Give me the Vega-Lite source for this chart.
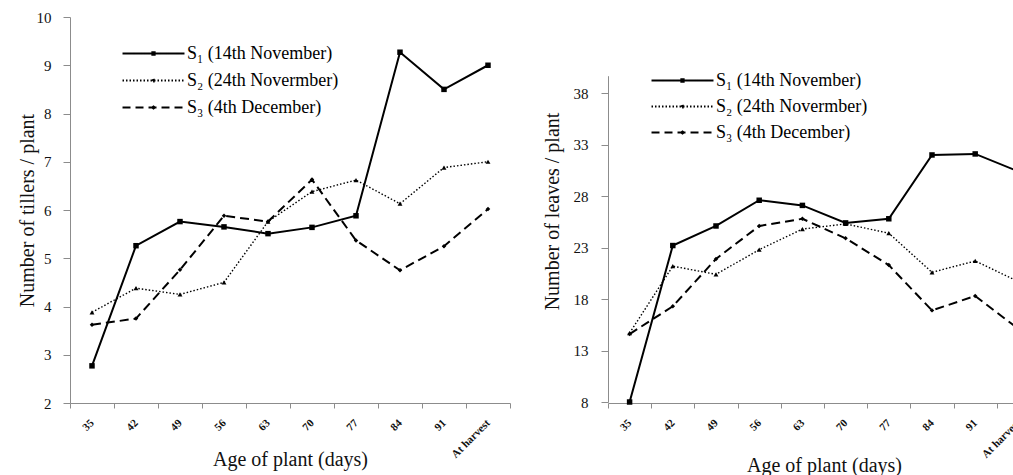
{
  "$schema": "https://vega.github.io/schema/vega-lite/v6.json",
  "background": "white",
  "padding": {"left": 17, "top": 10, "right": 0, "bottom": 0},
  "spacing": 31,
  "resolve": {"scale": {"shape": "independent", "strokeDash": "independent"}, "legend": {"shape": "independent", "strokeDash": "independent"}},
  "config": {
    "view": {"stroke": null},
    "axis": {
      "domainColor": "#8c8c8c",
      "tickColor": "#8c8c8c",
      "labelColor": "#111111",
      "titleColor": "#111111",
      "labelFont": "Liberation Serif",
      "titleFont": "Liberation Serif",
      "labelFontSize": 15,
      "titleFontSize": 20,
      "titleFontWeight": "normal",
      "grid": false
    }
  },
  "datasets": {
    "tillers": [
      {"age": "35", "series": "S₁ (14th November)", "value": 2.77},
      {"age": "42", "series": "S₁ (14th November)", "value": 5.26},
      {"age": "49", "series": "S₁ (14th November)", "value": 5.76},
      {"age": "56", "series": "S₁ (14th November)", "value": 5.65},
      {"age": "63", "series": "S₁ (14th November)", "value": 5.51},
      {"age": "70", "series": "S₁ (14th November)", "value": 5.64},
      {"age": "77", "series": "S₁ (14th November)", "value": 5.88},
      {"age": "84", "series": "S₁ (14th November)", "value": 9.27},
      {"age": "91", "series": "S₁ (14th November)", "value": 8.5},
      {"age": "At harvest", "series": "S₁ (14th November)", "value": 9.0},
      {"age": "35", "series": "S₂ (24th Novermber)", "value": 3.88},
      {"age": "42", "series": "S₂ (24th Novermber)", "value": 4.38},
      {"age": "49", "series": "S₂ (24th Novermber)", "value": 4.25},
      {"age": "56", "series": "S₂ (24th Novermber)", "value": 4.5},
      {"age": "63", "series": "S₂ (24th Novermber)", "value": 5.76},
      {"age": "70", "series": "S₂ (24th Novermber)", "value": 6.38},
      {"age": "77", "series": "S₂ (24th Novermber)", "value": 6.62},
      {"age": "84", "series": "S₂ (24th Novermber)", "value": 6.13},
      {"age": "91", "series": "S₂ (24th Novermber)", "value": 6.88},
      {"age": "At harvest", "series": "S₂ (24th Novermber)", "value": 7.0},
      {"age": "35", "series": "S₃ (4th December)", "value": 3.62},
      {"age": "42", "series": "S₃ (4th December)", "value": 3.75},
      {"age": "49", "series": "S₃ (4th December)", "value": 4.76},
      {"age": "56", "series": "S₃ (4th December)", "value": 5.88},
      {"age": "63", "series": "S₃ (4th December)", "value": 5.76},
      {"age": "70", "series": "S₃ (4th December)", "value": 6.63},
      {"age": "77", "series": "S₃ (4th December)", "value": 5.37},
      {"age": "84", "series": "S₃ (4th December)", "value": 4.75},
      {"age": "91", "series": "S₃ (4th December)", "value": 5.25},
      {"age": "At harvest", "series": "S₃ (4th December)", "value": 6.02}
    ],
    "leaves": [
      {"age": "35", "series": "S₁ (14th November)", "value": 8.0},
      {"age": "42", "series": "S₁ (14th November)", "value": 23.2},
      {"age": "49", "series": "S₁ (14th November)", "value": 25.1},
      {"age": "56", "series": "S₁ (14th November)", "value": 27.6},
      {"age": "63", "series": "S₁ (14th November)", "value": 27.1},
      {"age": "70", "series": "S₁ (14th November)", "value": 25.4},
      {"age": "77", "series": "S₁ (14th November)", "value": 25.8},
      {"age": "84", "series": "S₁ (14th November)", "value": 32.0},
      {"age": "91", "series": "S₁ (14th November)", "value": 32.1},
      {"age": "At harvest", "series": "S₁ (14th November)", "value": 30.4},
      {"age": "35", "series": "S₂ (24th Novermber)", "value": 14.7},
      {"age": "42", "series": "S₂ (24th Novermber)", "value": 21.2},
      {"age": "49", "series": "S₂ (24th Novermber)", "value": 20.4},
      {"age": "56", "series": "S₂ (24th Novermber)", "value": 22.8},
      {"age": "63", "series": "S₂ (24th Novermber)", "value": 24.8},
      {"age": "70", "series": "S₂ (24th Novermber)", "value": 25.3},
      {"age": "77", "series": "S₂ (24th Novermber)", "value": 24.4},
      {"age": "84", "series": "S₂ (24th Novermber)", "value": 20.6},
      {"age": "91", "series": "S₂ (24th Novermber)", "value": 21.7},
      {"age": "At harvest", "series": "S₂ (24th Novermber)", "value": 19.7},
      {"age": "35", "series": "S₃ (4th December)", "value": 14.6},
      {"age": "42", "series": "S₃ (4th December)", "value": 17.3},
      {"age": "49", "series": "S₃ (4th December)", "value": 21.9},
      {"age": "56", "series": "S₃ (4th December)", "value": 25.1},
      {"age": "63", "series": "S₃ (4th December)", "value": 25.8},
      {"age": "70", "series": "S₃ (4th December)", "value": 23.9},
      {"age": "77", "series": "S₃ (4th December)", "value": 21.3},
      {"age": "84", "series": "S₃ (4th December)", "value": 16.9},
      {"age": "91", "series": "S₃ (4th December)", "value": 18.3},
      {"age": "At harvest", "series": "S₃ (4th December)", "value": 15.1}
    ]
  },
  "hconcat": [
    {
      "width": 440,
      "height": 386,
      "data": {"name": "tillers"},
      "encoding": {
        "x": {
          "field": "age", "type": "ordinal",
          "sort": ["35", "42", "49", "56", "63", "70", "77", "84", "91", "At harvest"],
          "scale": {"type": "band", "paddingInner": 0, "paddingOuter": 0},
          "axis": {
            "title": "Age of plant (days)", "tickBand": "extent", "tickSize": 5,
            "labelAngle": -45, "labelAlign": "right", "labelBaseline": "middle", "labelPadding": 13,
            "labelFontWeight": "bold", "labelFontSize": 11,
            "titleX": 220, "titleY": 62, "titleBaseline": "alphabetic", "titleAlign": "center"
          }
        },
        "y": {
          "field": "value", "type": "quantitative",
          "scale": {"domain": [2, 10], "nice": false, "zero": false},
          "axis": {
            "title": "Number of tillers / plant", "values": [2, 3, 4, 5, 6, 7, 8, 9, 10],
            "tickSize": 7, "labelPadding": 12,
            "titleX": -37, "titleY": 193, "titleBaseline": "alphabetic", "titleAlign": "center", "titleAngle": -90
          }
        }
      },
      "layer": [
        {"transform": [{"filter": {"field": "series", "equal": "S₁ (14th November)"}}], "mark": {"type": "line", "color": "black", "strokeWidth": 2}, "encoding": {}},
        {"transform": [{"filter": {"field": "series", "equal": "S₂ (24th Novermber)"}}], "mark": {"type": "line", "color": "black", "strokeWidth": 1.4, "strokeDash": [1.5, 2]}, "encoding": {}},
        {"transform": [{"filter": {"field": "series", "equal": "S₃ (4th December)"}}], "mark": {"type": "line", "color": "black", "strokeWidth": 2, "strokeDash": [9, 5]}, "encoding": {}},
        {"transform": [{"filter": {"field": "series", "equal": "S₁ (14th November)"}}], "mark": {"type": "point", "shape": "square", "filled": true, "color": "black", "opacity": 1, "size": 30}, "encoding": {}},
        {"transform": [{"filter": {"field": "series", "equal": "S₂ (24th Novermber)"}}], "mark": {"type": "point", "shape": "triangle-up", "filled": true, "color": "black", "opacity": 1, "size": 24}, "encoding": {}},
        {"transform": [{"filter": {"field": "series", "equal": "S₃ (4th December)"}}], "mark": {"type": "point", "shape": "diamond", "filled": true, "color": "black", "opacity": 1, "size": 20}, "encoding": {}},
        {
          "mark": {"type": "point", "filled": false, "color": "black", "strokeWidth": 1.8, "opacity": 0},
          "encoding": {
            "shape": {
              "field": "series", "type": "nominal",
              "scale": {"domain": ["S₁ (14th November)", "S₂ (24th Novermber)", "S₃ (4th December)"],
                        "range": ["M-3,0H3M-0.12,-0.12H0.12V0.12H-0.12ZM-0.12,0H0.12", "M-3,0H3M0,-0.16L0.15,0.1H-0.15ZM0,-0.05V0.1", "M-3,0H3M-0.14,0L0,-0.1L0.14,0L0,0.1Z"]},
              "legend": {
                "title": null, "orient": "none", "legendX": 72, "legendY": 25, "padding": 0, "rowPadding": 6,
                "symbolSize": 427, "labelOffset": 22, "labelFont": "Liberation Serif", "labelFontSize": 18,
                "labelColor": "black", "labelLimit": 400, "symbolOpacity": 1, "symbolStrokeWidth": 1.8,
                "symbolStrokeColor": "black"
              }
            },
            "strokeDash": {
              "field": "series", "type": "nominal",
              "scale": {"domain": ["S₁ (14th November)", "S₂ (24th Novermber)", "S₃ (4th December)"], "range": [[1, 0], [1.5, 2], [8, 5]]},
              "legend": {
                "title": null, "orient": "none", "legendX": 72, "legendY": 25, "padding": 0, "rowPadding": 6,
                "symbolSize": 427, "labelOffset": 22, "labelFont": "Liberation Serif", "labelFontSize": 18,
                "labelColor": "black", "labelLimit": 400, "symbolOpacity": 1, "symbolStrokeWidth": 1.8,
                "symbolStrokeColor": "black"
              }
            }
          }
        }
      ]
    },
    {
      "width": 432,
      "height": 386,
      "data": {"name": "leaves"},
      "encoding": {
        "x": {
          "field": "age", "type": "ordinal",
          "sort": ["35", "42", "49", "56", "63", "70", "77", "84", "91", "At harvest"],
          "scale": {"type": "band", "paddingInner": 0, "paddingOuter": 0},
          "axis": {
            "title": "Age of plant (days)", "tickBand": "extent", "tickSize": 5,
            "labelAngle": -45, "labelAlign": "right", "labelBaseline": "middle", "labelPadding": 13,
            "labelFontWeight": "bold", "labelFontSize": 11,
            "titleX": 216, "titleY": 68, "titleBaseline": "alphabetic", "titleAlign": "center"
          }
        },
        "y": {
          "field": "value", "type": "quantitative",
          "scale": {"domain": [8, 39.7], "nice": false, "zero": false, "range": [385, 58.7]},
          "axis": {
            "title": "Number of leaves / plant", "values": [8, 13, 18, 23, 28, 33, 38],
            "tickSize": 7, "labelPadding": 13,
            "titleX": -50, "titleY": 194, "titleBaseline": "alphabetic", "titleAlign": "center", "titleAngle": -90
          }
        }
      },
      "layer": [
        {"transform": [{"filter": {"field": "series", "equal": "S₁ (14th November)"}}], "mark": {"type": "line", "color": "black", "strokeWidth": 2}, "encoding": {}},
        {"transform": [{"filter": {"field": "series", "equal": "S₂ (24th Novermber)"}}], "mark": {"type": "line", "color": "black", "strokeWidth": 1.4, "strokeDash": [1.5, 2]}, "encoding": {}},
        {"transform": [{"filter": {"field": "series", "equal": "S₃ (4th December)"}}], "mark": {"type": "line", "color": "black", "strokeWidth": 2, "strokeDash": [9, 5]}, "encoding": {}},
        {"transform": [{"filter": {"field": "series", "equal": "S₁ (14th November)"}}], "mark": {"type": "point", "shape": "square", "filled": true, "color": "black", "opacity": 1, "size": 30}, "encoding": {}},
        {"transform": [{"filter": {"field": "series", "equal": "S₂ (24th Novermber)"}}], "mark": {"type": "point", "shape": "triangle-up", "filled": true, "color": "black", "opacity": 1, "size": 24}, "encoding": {}},
        {"transform": [{"filter": {"field": "series", "equal": "S₃ (4th December)"}}], "mark": {"type": "point", "shape": "diamond", "filled": true, "color": "black", "opacity": 1, "size": 20}, "encoding": {}},
        {
          "mark": {"type": "point", "filled": false, "color": "black", "strokeWidth": 1.8, "opacity": 0},
          "encoding": {
            "shape": {
              "field": "series", "type": "nominal",
              "scale": {"domain": ["S₁ (14th November)", "S₂ (24th Novermber)", "S₃ (4th December)"],
                        "range": ["M-3,0H3M-0.12,-0.12H0.12V0.12H-0.12ZM-0.12,0H0.12", "M-3,0H3M0,-0.16L0.15,0.1H-0.15ZM0,-0.05V0.1", "M-3,0H3M-0.14,0L0,-0.1L0.14,0L0,0.1Z"]},
              "legend": {
                "title": null, "orient": "none", "legendX": 63, "legendY": 52, "padding": 0, "rowPadding": 5,
                "symbolSize": 427, "labelOffset": 22, "labelFont": "Liberation Serif", "labelFontSize": 18,
                "labelColor": "black", "labelLimit": 400, "symbolOpacity": 1, "symbolStrokeWidth": 1.8,
                "symbolStrokeColor": "black"
              }
            },
            "strokeDash": {
              "field": "series", "type": "nominal",
              "scale": {"domain": ["S₁ (14th November)", "S₂ (24th Novermber)", "S₃ (4th December)"], "range": [[1, 0], [1.5, 2], [8, 5]]},
              "legend": {
                "title": null, "orient": "none", "legendX": 63, "legendY": 52, "padding": 0, "rowPadding": 5,
                "symbolSize": 427, "labelOffset": 22, "labelFont": "Liberation Serif", "labelFontSize": 18,
                "labelColor": "black", "labelLimit": 400, "symbolOpacity": 1, "symbolStrokeWidth": 1.8,
                "symbolStrokeColor": "black"
              }
            }
          }
        }
      ]
    }
  ]
}
